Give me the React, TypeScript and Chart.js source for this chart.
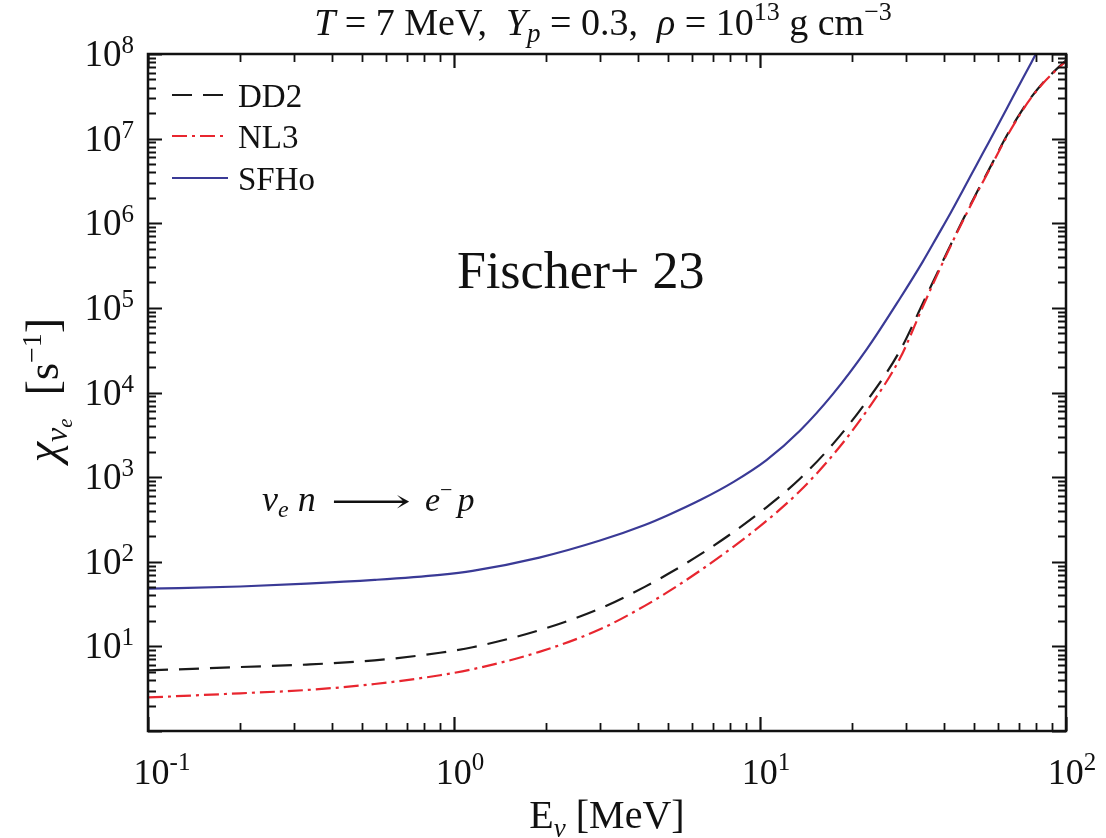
import React, { useEffect, useRef } from "react";
import { Chart, registerables } from "chart.js";

Chart.register(...registerables);

// Neutrino energy grid [MeV]
const energyMeV = [
  0.1, 0.2, 0.33, 0.55, 0.9, 1.15, 1.9, 3.0, 4.2, 5.0, 6.4, 8.2, 10.5, 13.5, 17.3,
  22.4, 28.7, 34, 38, 42, 46, 51, 56, 64, 72, 77, 84, 95, 100,
];

// Absorption opacity chi_{nu_e} [1/s] for each equation of state
const rateSFHo = [
  48, 51, 55, 61, 70, 78, 112, 178, 272, 355, 540, 880, 1590, 3540, 9570, 33000,
  1.3e5, 3.5e5, 7.05e5, 1.33e6, 2.44e6, 4.89e6, 9.14e6, 2.26e7, 5.04e7, 7.9e7,
  1.44e8, 3.34e8, 4.7e8,
];
const rateDD2 = [
  5.2, 5.7, 6.1, 6.84, 8.4, 9.77, 15.5, 28, 50.5, 71.5, 123, 225, 440, 957, 2455,
  8040, 31400, 1.12e5, 2.61e5, 5.58e5, 1.09e6, 2.28e6, 4.3e6, 1.08e7, 2.19e7, 3.1e7,
  4.55e7, 7.1e7, 8.36e7,
];
const rateNL3 = [
  2.49, 2.79, 3.05, 3.59, 4.56, 5.37, 8.61, 15.9, 30.1, 44, 79.3, 151, 304, 685,
  1820, 6170, 25500, 1.02e5, 2.49e5, 5.43e5, 1.06e6, 2.22e6, 4.2e6, 1.05e7, 2.14e7,
  3.05e7, 4.47e7, 6.97e7, 8.2e7,
];

// Decade ticks and their exponent labels
const xDecades = [0.1, 1, 10, 100];
const xExponents = ["-1", "0", "1", "2"];
const yDecades = [1, 10, 100, 1e3, 1e4, 1e5, 1e6, 1e7, 1e8];
const yExponents = ["", "1", "2", "3", "4", "5", "6", "7", "8"];

const seriesNames = ["DD2", "NL3", "SFHo"];
const seriesColors = ["#1a1a1a", "#e8262f", "#3a3a96"];
const seriesDashes: number[][] = [[20, 11], [15, 5, 3, 5], []];

const SERIF = "'Liberation Serif', 'Times New Roman', 'DejaVu Serif', serif";

type Seg = { t: string; size: number; italic?: boolean; dy?: number; sx?: number };

function fontOf(s: Seg) {
  return `${s.italic ? "italic " : ""}${s.size}px ${SERIF}`;
}

function segWidth(ctx: CanvasRenderingContext2D, s: Seg) {
  ctx.font = fontOf(s);
  return ctx.measureText(s.t).width * (s.sx || 1);
}

function drawRun(
  ctx: CanvasRenderingContext2D,
  segs: Seg[],
  x: number,
  y: number,
  align: "left" | "center" | "right"
) {
  let w = 0;
  for (const s of segs) w += segWidth(ctx, s);
  let cx = align === "center" ? x - w / 2 : align === "right" ? x - w : x;
  ctx.textAlign = "left";
  ctx.textBaseline = "alphabetic";
  for (const s of segs) {
    const sw = segWidth(ctx, s);
    ctx.font = fontOf(s);
    if (s.sx) {
      ctx.save();
      ctx.translate(cx, y + (s.dy || 0));
      ctx.scale(s.sx, 1);
      ctx.fillText(s.t, 0, 0);
      ctx.restore();
    } else {
      ctx.fillText(s.t, cx, y + (s.dy || 0));
    }
    cx += sw;
  }
}

const framePlugin = {
  id: "frameAndText",
  afterDraw(chart: any) {
    const { ctx, chartArea: a, scales } = chart;
    const xs = scales.x;
    const ys = scales.y;
    ctx.save();
    ctx.strokeStyle = "#111";
    ctx.fillStyle = "#111";

    // inward ticks on all four sides
    const majorLen = 14;
    const minorLen = 8;
    const xTick = (v: number, len: number, lw: number) => {
      const px = Math.round(xs.getPixelForValue(v)) + 0.5;
      ctx.lineWidth = lw;
      ctx.beginPath();
      ctx.moveTo(px, a.bottom);
      ctx.lineTo(px, a.bottom - len);
      ctx.moveTo(px, a.top);
      ctx.lineTo(px, a.top + len);
      ctx.stroke();
    };
    const yTick = (v: number, len: number, lw: number) => {
      const py = Math.round(ys.getPixelForValue(v)) + 0.5;
      ctx.lineWidth = lw;
      ctx.beginPath();
      ctx.moveTo(a.left, py);
      ctx.lineTo(a.left + len, py);
      ctx.moveTo(a.right, py);
      ctx.lineTo(a.right - len, py);
      ctx.stroke();
    };
    for (let i = 0; i < xDecades.length; i++) {
      xTick(xDecades[i], majorLen, 2.2);
      if (i < xDecades.length - 1) {
        for (let m = 2; m <= 9; m++) xTick(xDecades[i] * m, minorLen, 1.8);
      }
    }
    for (let i = 0; i < yDecades.length; i++) {
      yTick(yDecades[i], majorLen, 2.2);
      if (i < yDecades.length - 1) {
        for (let m = 2; m <= 9; m++) yTick(yDecades[i] * m, minorLen, 1.8);
      }
    }

    // frame
    ctx.lineWidth = 2.5;
    ctx.strokeRect(a.left, a.top, a.right - a.left, a.bottom - a.top);

    // tick labels
    for (let i = 0; i < xDecades.length; i++) {
      const px = xs.getPixelForValue(xDecades[i]);
      drawRun(
        ctx,
        [
          { t: "10", size: 36 },
          { t: xExponents[i], size: 25, dy: -14 },
        ],
        px + (i === 0 ? 14 : 6),
        784,
        "center"
      );
    }
    for (let i = 0; i < yDecades.length; i++) {
      if (!yExponents[i]) continue;
      const py = ys.getPixelForValue(yDecades[i]);
      drawRun(
        ctx,
        [
          { t: "10", size: 37 },
          { t: yExponents[i], size: 25, dy: -13 },
        ],
        a.left - 14,
        py + 12,
        "right"
      );
    }

    // title
    drawRun(
      ctx,
      [
        { t: "T", size: 38, italic: true },
        { t: " = 7 MeV,  ", size: 38 },
        { t: "Y", size: 38, italic: true },
        { t: "p", size: 27, italic: true, dy: 7 },
        { t: " = 0.3,  ", size: 38 },
        { t: "ρ", size: 38, italic: true },
        { t: " = 10", size: 38 },
        { t: "13", size: 26, dy: -15 },
        { t: " g cm", size: 38 },
        { t: "−3", size: 26, dy: -15 },
      ],
      (a.left + a.right) / 2 - 4,
      35,
      "center"
    );

    // x-axis title
    drawRun(
      ctx,
      [
        { t: "E", size: 40 },
        { t: "ν", size: 27, italic: true, dy: 9 },
        { t: " [MeV]", size: 40 },
      ],
      (a.left + a.right) / 2,
      828,
      "center"
    );

    // y-axis title (rotated)
    ctx.save();
    ctx.translate(58, 390);
    ctx.rotate(-Math.PI / 2);
    drawRun(
      ctx,
      [
        { t: "χ", size: 46, italic: true },
        { t: "ν", size: 32, italic: true, dy: 9 },
        { t: "e", size: 21, italic: true, dy: 14 },
        { t: "  [", size: 46 },
        { t: "s", size: 44 },
        { t: "−1", size: 28, dy: -17 },
        { t: "]", size: 46 },
      ],
      0,
      0,
      "center"
    );
    ctx.restore();

    // legend
    ctx.lineCap = "butt";
    const legendY = [95, 136, 178];
    for (let i = 0; i < seriesNames.length; i++) {
      ctx.strokeStyle = seriesColors[i];
      ctx.lineWidth = 2.2;
      ctx.setLineDash(seriesDashes[i]);
      ctx.beginPath();
      ctx.moveTo(172, legendY[i]);
      ctx.lineTo(228, legendY[i]);
      ctx.stroke();
      ctx.setLineDash([]);
      ctx.fillStyle = "#111";
      drawRun(ctx, [{ t: seriesNames[i], size: 33 }], 238, legendY[i] + 12, "left");
    }

    // annotations
    drawRun(ctx, [{ t: "Fischer+ 23", size: 52 }], 457, 288, "left");
    drawRun(
      ctx,
      [
        { t: "ν", size: 36, italic: true },
        { t: "e", size: 24, italic: true, dy: 6 },
        { t: " n", size: 36, italic: true },
        { t: "  ", size: 30 },
        { t: "⟶", size: 32, sx: 1.75, dy: 1 },
        { t: "  ", size: 28 },
        { t: "e", size: 34, italic: true },
        { t: "−", size: 22, dy: -14 },
        { t: " ", size: 20 },
        { t: "p", size: 34, italic: true },
      ],
      262,
      511,
      "left"
    );

    ctx.restore();
  },
};

export default function App() {
  const canvasRef = useRef<HTMLCanvasElement | null>(null);

  useEffect(() => {
    const canvas = canvasRef.current;
    if (!canvas) return;
    const rates = [rateDD2, rateNL3, rateSFHo];
    const chart = new Chart(canvas, {
      type: "line",
      data: {
        datasets: seriesNames.map((name, i) => ({
          label: name,
          data: energyMeV.map((e, k) => ({ x: e, y: rates[i][k] })),
          borderColor: seriesColors[i],
          borderWidth: 2.2,
          borderDash: seriesDashes[i],
          pointRadius: 0,
          fill: false,
          cubicInterpolationMode: "monotone" as const,
          order: i === 1 ? 0 : i === 0 ? 1 : 2,
        })),
      },
      options: {
        animation: false,
        responsive: false,
        devicePixelRatio: 1,
        layout: { padding: { left: 148, top: 54, right: 40, bottom: 107 } },
        plugins: {
          legend: { display: false },
          title: { display: false },
          tooltip: { enabled: false },
        },
        scales: {
          x: { type: "logarithmic", min: 0.1, max: 100, display: false },
          y: { type: "logarithmic", min: 1, max: 1e8, display: false },
        },
      },
      plugins: [framePlugin],
    });
    return () => chart.destroy();
  }, []);

  return (
    <div style={{ position: "fixed", left: 0, top: 0, width: 1106, height: 838, background: "#fff" }}>
      <canvas ref={canvasRef} width={1106} height={838} />
    </div>
  );
}
